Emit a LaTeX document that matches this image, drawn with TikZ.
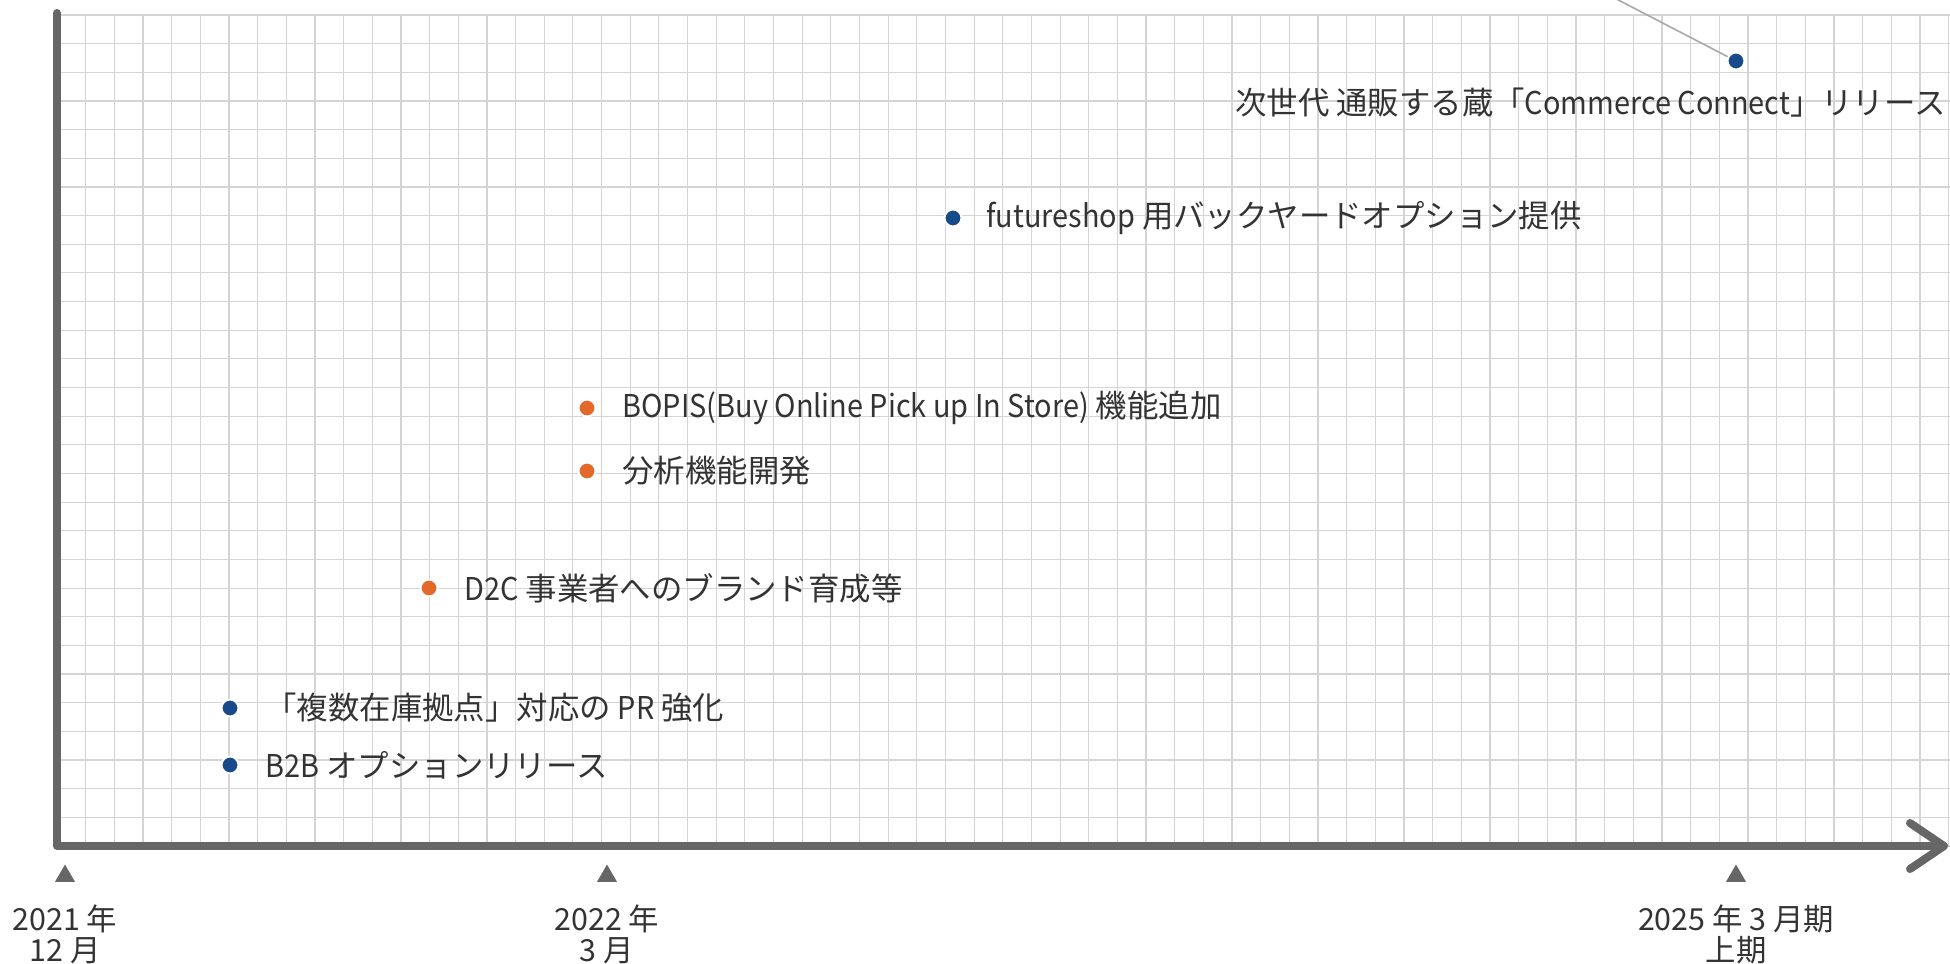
\documentclass[tikz,border=0pt]{standalone}
\usepackage{fontspec}
\setmainfont{Noto Sans CJK JP}
\newfontfamily\lat{Noto Sans CJK JP}[FakeStretch=0.92]
\usetikzlibrary{shapes.geometric}
\definecolor{gridc}{HTML}{D4D4D4}
\definecolor{axisc}{HTML}{666666}
\definecolor{dotblue}{HTML}{164A8B}
\definecolor{dotorange}{HTML}{E2692A}
\definecolor{txtc}{HTML}{333333}
\definecolor{leadc}{HTML}{A8A8A8}
\begin{document}
\begin{tikzpicture}[x=0.5pt,y=-0.5pt,
  gridline/.style={draw=gridc, line width=0.6pt},
  axisline/.style={draw=axisc, line width=4pt, line cap=round, line join=round},
  dotbase/.style={circle, draw=white, line width=1pt, minimum size=8.5pt, inner sep=0pt},
  dotb/.style={dotbase, fill=dotblue},
  doto/.style={dotbase, fill=dotorange},
  lbl/.style={anchor=west, text=txtc, font=\fontsize{15.7}{18}\selectfont, inner sep=0pt},
  ticktri/.style={regular polygon, regular polygon sides=3, fill=axisc, minimum size=11.5pt, inner sep=0pt},
  ticklbl/.style={text=txtc, font=\fontsize{15.2}{15.5}\selectfont, align=center, inner sep=0pt},
  leadline/.style={draw=leadc, line width=0.8pt}]
\useasboundingbox (0,0) rectangle (1950,964);
% grid
\foreach \i in {0,...,29} \draw[gridline] (57,15+\i*28.655) -- (1950,15+\i*28.655);
\foreach \j in {0,...,66} \draw[gridline] (57+\j*28.66,15) -- (57+\j*28.66,846);
% axes
\coordinate (atop) at (57,13);
\coordinate (orig) at (57,846);
\coordinate (atip) at (1944,846);
\coordinate (ah1) at (1910,823);
\coordinate (ah2) at (1910,869);
\draw[axisline] (atop) -- (orig) -- (atip);
\draw[axisline] (ah1) -- (atip) -- (ah2);
% ticks
\node[ticktri] (t1) at (65,876) {};
\node[ticktri] (t2) at (607,876) {};
\node[ticktri] (t3) at (1736,876) {};
\node[ticklbl] (l1) at (65,934) {2021 年\\12 月};
\node[ticklbl] (l2) at (607,934) {2022 年\\3 月};
\node[ticklbl] (l3) at (1736,934) {2025 年 3 月期\\上期};
% events
\coordinate (cfree) at (1599,-10);
\node[dotb] (d1) at (1736,61) {};
\draw[leadline] (d1) -- (cfree);
\node[lbl, anchor=east] (e1) at (1946,103) {次世代 通販する蔵「{\lat Commerce Connect}」リリース};
\node[dotb] (d2) at (953,218) {};
\node[lbl] (e2) at (986,218) {{\lat futureshop} 用バックヤードオプション提供};
\node[doto] (d3) at (587,408) {};
\node[lbl] (e3) at (622,408) {{\lat BOPIS(Buy Online Pick up In Store)} 機能追加};
\node[doto] (d4) at (587,471) {};
\node[lbl] (e4) at (622,471) {分析機能開発};
\node[doto] (d5) at (429,588) {};
\node[lbl] (e5) at (464,588) {{\lat D2C} 事業者へのブランド育成等};
\node[dotb] (d6) at (230,708) {};
\node[lbl] (e6) at (265,708) {「複数在庫拠点」対応の {\lat PR} 強化};
\node[dotb] (d7) at (230,765) {};
\node[lbl] (e7) at (265,765) {{\lat B2B} オプションリリース};
\end{tikzpicture}
\end{document}
